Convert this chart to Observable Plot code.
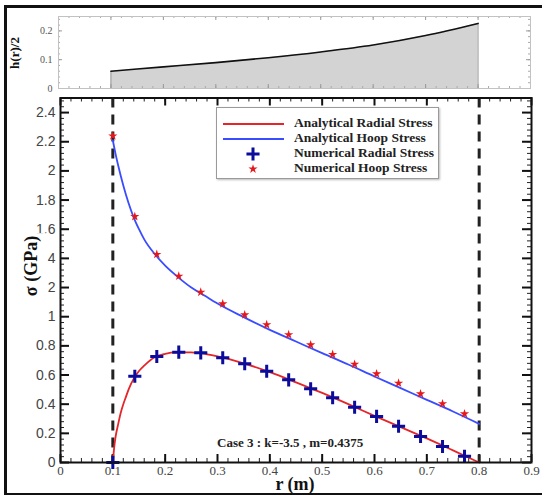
<!DOCTYPE html>
<html><head><meta charset="utf-8">
<script src="https://cdn.jsdelivr.net/npm/d3@7"></script>
<script src="https://cdn.jsdelivr.net/npm/@observablehq/plot@0.6"></script>
<style>
body{margin:0;background:#fff;}
#wrap{position:relative;width:542px;height:495px;overflow:hidden;background:#fff;font-family:"Liberation Serif",serif;}
#wrap svg{position:absolute;left:0;}
.border{position:absolute;left:4px;top:5px;width:560px;height:491px;border:3px solid #111;box-sizing:border-box;z-index:5;pointer-events:none;}
.lbl{position:absolute;font-family:"Liberation Serif",serif;font-weight:bold;color:#111;white-space:nowrap;}
.legend{position:absolute;left:216px;top:107px;width:223px;height:72px;border:1px solid #9a9a9a;box-shadow:1px 1px 2px #bbb;background:#fff;box-sizing:border-box;}
.legend .row{position:absolute;left:0;height:15px;width:100%;}
.legend .row span{position:absolute;left:77px;top:-1px;font:bold 13.5px "Liberation Serif",serif;color:#222;white-space:nowrap;}
.legend .row svg{position:absolute;left:0;top:0;}
</style></head>
<body>
<div id="wrap"></div>
<script>
// ---------- data ----------
const innerOuter = [0.1, 0.8];
// thickness profile h(r)/2
const hR   = [0.1, 0.2, 0.3, 0.4, 0.5, 0.6, 0.7, 0.8];
const hVal = [0.060, 0.075, 0.090, 0.107, 0.127, 0.151, 0.184, 0.226];
// analytical curves
const radR = [0.1,0.1025,0.105,0.11,0.115,0.12,0.125,0.13,0.14,0.15,0.16,0.18,0.2,0.22,0.25,0.28,0.3,0.35,0.4,0.45,0.5,0.55,0.6,0.65,0.7,0.75,0.8];
const radVal = [0,0.10,0.17,0.26,0.34,0.40,0.45,0.50,0.575,0.628,0.665,0.722,0.745,0.755,0.755,0.742,0.728,0.68,0.62,0.55,0.477,0.40,0.32,0.243,0.165,0.083,0];
const hoopR = [0.1,0.105,0.11,0.12,0.13,0.14,0.15,0.16,0.18,0.2,0.225,0.25,0.275,0.3,0.35,0.4,0.45,0.5,0.55,0.6,0.65,0.7,0.75,0.8];
const hoopVal = [2.21,2.12,2.04,1.90,1.78,1.68,1.60,1.53,1.43,1.35,1.27,1.20,1.145,1.09,0.997,0.91,0.83,0.75,0.672,0.59,0.51,0.43,0.35,0.265];
// numerical points
const numR = [0.1,0.142,0.184,0.226,0.268,0.31,0.352,0.394,0.436,0.478,0.52,0.562,0.604,0.646,0.688,0.73,0.772];
const numHoop = [2.24,1.687,1.427,1.278,1.168,1.088,1.013,0.945,0.877,0.807,0.741,0.674,0.608,0.544,0.471,0.403,0.334];
const numRadial = [0,0.592,0.727,0.757,0.752,0.718,0.677,0.626,0.567,0.505,0.444,0.379,0.316,0.249,0.178,0.110,0.043];
// ticks
const xTicks = [0,0.1,0.2,0.3,0.4,0.5,0.6,0.7,0.8,0.9];
const yTicks = [0,0.2,0.4,0.6,0.8,1,1.2,1.4,1.6,1.8,2,2.2,2.4];
const hTicks = [0,0.1,0.2];
const legendItems = ["Analytical Radial Stress","Analytical Hoop Stress","Numerical Radial Stress","Numerical Hoop Stress"];
const caseText = "Case 3 : k=-3.5 , m=0.4375";

const red = "#e4262a", blue = "#3a4cff", navy = "#0b0b9c", starRed = "#e3191c";

const hData = hR.map((r,i)=>({r, h:hVal[i]}));
const radData = radR.map((r,i)=>({r, s:radVal[i]}));
const hoopData = hoopR.map((r,i)=>({r, s:hoopVal[i]}));
const numData = numR.map((r,i)=>({r, hoop:numHoop[i], rad:numRadial[i]}));
const fmt = d => d===0 ? "0" : String(+d.toFixed(2));
const xMinor = d3.range(0, 0.9001, 0.02).map(v=>+v.toFixed(3));
const yMinor = d3.range(0, 2.5001, 0.04).map(v=>+v.toFixed(3));
const hxMinor = xMinor, hyMinor = d3.range(0, 0.2501, 0.02).map(v=>+v.toFixed(3));

const wrap = document.getElementById("wrap");

// ---------- top panel ----------
const TW = 542-58-12, TH = 95-16-7;
const topPlot = Plot.plot({
  width:542, height:95, marginLeft:58, marginRight:12, marginTop:16, marginBottom:7,
  x:{domain:[0,0.9], axis:null}, y:{domain:[0,0.25]},
  style:{background:"transparent", overflow:"visible"},
  marks:[
    Plot.areaY(hData,{x:"r", y:"h", fill:"#d3d3d3", curve:"monotone-x"}),
    Plot.ruleX([hData[0], hData[hData.length-1]],{x:"r", y1:0, y2:"h", stroke:"#9a9a9a"}),
    Plot.lineY(hData,{x:"r", y:"h", stroke:"#111", strokeWidth:1.6, curve:"monotone-x"}),
    Plot.tickX(hxMinor,{x:d=>d, insetTop:TH-2, stroke:"#aaa"}),
    Plot.tickX(hxMinor,{x:d=>d, insetBottom:TH-2, stroke:"#aaa"}),
    Plot.tickX(xTicks,{x:d=>d, insetTop:TH-4, stroke:"#999"}),
    Plot.tickX(xTicks,{x:d=>d, insetBottom:TH-4, stroke:"#999"}),
    Plot.tickY(hyMinor,{y:d=>d, insetRight:TW-2, stroke:"#aaa"}),
    Plot.tickY(hyMinor,{y:d=>d, insetLeft:TW-2, stroke:"#aaa"}),
    Plot.tickY(hTicks,{y:d=>d, insetRight:TW-4, stroke:"#999"}),
    Plot.tickY(hTicks,{y:d=>d, insetLeft:TW-4, stroke:"#999"}),
    Plot.frame({stroke:"#c2c2c2"}),
    Plot.axisY({ticks:hTicks, tickSize:0, tickPadding:6, tickFormat:fmt, label:null, fontFamily:"Liberation Serif", fontSize:10, fill:"#555"})
  ]
});
topPlot.style.top = "0px";
wrap.appendChild(topPlot);

// ---------- main panel ----------
const MW = 542-60-11, MH = 405-7.5-33;
const mainPlot = Plot.plot({
  width:542, height:405, marginLeft:60, marginRight:11, marginTop:7.5, marginBottom:33,
  x:{domain:[0,0.9]}, y:{domain:[0,2.5]},
  style:{background:"transparent", overflow:"visible"},
  marks:[
    Plot.tickX(xMinor,{x:d=>d, insetTop:MH-4, stroke:"#222"}),
    Plot.tickX(xMinor,{x:d=>d, insetBottom:MH-4, stroke:"#222"}),
    Plot.tickX(xTicks,{x:d=>d, insetTop:MH-8, stroke:"#111", strokeWidth:2}),
    Plot.tickX(xTicks,{x:d=>d, insetBottom:MH-8, stroke:"#111", strokeWidth:2}),
    Plot.tickY(yMinor,{y:d=>d, insetRight:MW-4, stroke:"#222"}),
    Plot.tickY(yMinor,{y:d=>d, insetLeft:MW-4, stroke:"#222"}),
    Plot.tickY(yTicks,{y:d=>d, insetRight:MW-9, stroke:"#111", strokeWidth:2}),
    Plot.tickY(yTicks,{y:d=>d, insetLeft:MW-9, stroke:"#111", strokeWidth:2}),
    Plot.ruleX(innerOuter,{x:d=>d, stroke:"#222", strokeWidth:3, strokeDasharray:"10,7"}),
    Plot.line(hoopData,{x:"r", y:"s", stroke:blue, strokeWidth:1.8, curve:"monotone-x"}),
    Plot.line(radData,{x:"r", y:"s", stroke:red, strokeWidth:1.8, curve:"monotone-x"}),
    Plot.dot(numData,{x:"r", y:"rad", symbol:"plus", stroke:navy, strokeWidth:3, r:4.3}),
    Plot.dot(numData,{x:"r", y:"hoop", symbol:"star", fill:starRed, r:2.9}),
    Plot.frame({stroke:"#111", strokeWidth:2}),
    Plot.axisX({ticks:xTicks, tickSize:0, tickPadding:3, tickFormat:fmt, label:null, fontFamily:"Liberation Serif", fontSize:13, fill:"#444"}),
    Plot.axisY({ticks:yTicks, tickSize:0, tickPadding:5, tickFormat:fmt, label:null, fontFamily:"Liberation Sans", fontSize:14, fill:"#444"})
  ]
});
mainPlot.style.top = "90px";
wrap.appendChild(mainPlot);

// ---------- texts ----------
function addLabel(text, css){
  const d = document.createElement("div");
  d.className = "lbl"; d.textContent = text;
  Object.assign(d.style, css);
  wrap.appendChild(d);
  return d;
}
// y title of top panel
addLabel("h(r)/2",{left:"15px", top:"53px", fontSize:"13px", transform:"translate(-50%,-50%) rotate(-90deg)"});
// y title main (white box behind, as in the reference)
addLabel("σ (GPa)",{left:"30.5px", top:"266px", fontSize:"18px", background:"#fff", padding:"0 3px", lineHeight:"32px", transform:"translate(-50%,-50%) rotate(-90deg)"});
// x title
addLabel("r (m)",{left:"295px", top:"475px", fontSize:"18px", lineHeight:"18px", transform:"translateX(-50%)"});
// case text
addLabel(caseText,{left:"217px", top:"435px", fontSize:"13px", lineHeight:"16px", color:"#222"});

// ---------- legend ----------
const leg = document.createElement("div");
leg.className = "legend";
wrap.appendChild(leg);
const symPlus = d3.symbol(d3.symbolPlus, Math.PI*4.3*4.3)();
const symStar = d3.symbol(d3.symbolStar, Math.PI*2.9*2.9)();
legendItems.forEach((name,i)=>{
  const row = document.createElement("div");
  row.className = "row";
  row.style.top = (8 + i*15) + "px";
  let icon;
  if (i===0) icon = `<line x1="6" x2="67" y1="8" y2="8" stroke="${red}" stroke-width="1.8"/>`;
  else if (i===1) icon = `<line x1="6" x2="67" y1="8" y2="8" stroke="${blue}" stroke-width="1.8"/>`;
  else if (i===2) icon = `<path transform="translate(36,8)" d="${symPlus}" fill="none" stroke="${navy}" stroke-width="3"/>`;
  else icon = `<path transform="translate(36,8)" d="${symStar}" fill="${starRed}"/>`;
  row.innerHTML = `<svg width="76" height="16">${icon}</svg><span></span>`;
  row.querySelector("span").textContent = name;
  leg.appendChild(row);
});

// outer border
const b = document.createElement("div");
b.className = "border";
wrap.appendChild(b);
</script>
</body></html>
